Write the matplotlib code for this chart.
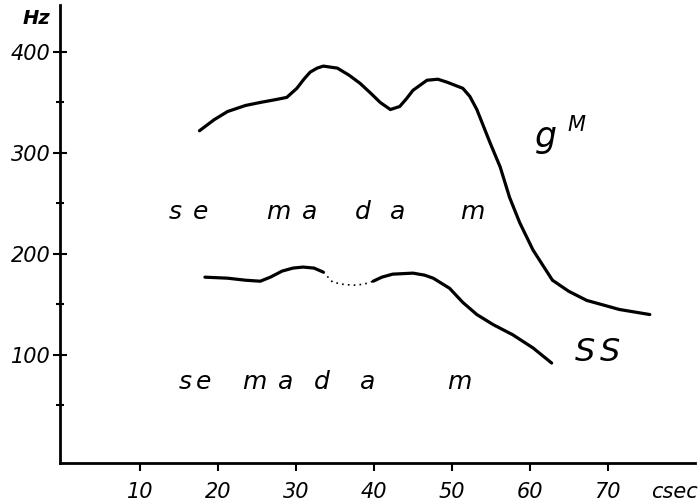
import matplotlib.pyplot as plt

# gM curve (csec, Hz)
gm_t = [17.6, 19.5, 21.2, 23.5, 25.4, 27.5, 28.8, 30.1, 31.0, 31.8, 32.7, 33.5, 35.3, 36.8, 38.2, 39.6,
        40.8, 42.1, 43.3, 44.2, 45.0, 46.8, 48.2, 49.4, 51.4, 52.3, 53.2, 54.9, 56.2, 57.4, 58.7,
        60.4, 62.9, 65.0, 67.3, 71.5, 75.4]
gm_hz = [322, 333, 341, 347, 350, 353, 355, 364, 373, 380, 384, 386, 384, 377, 369, 359,
         350, 343, 346, 354, 362, 372, 373, 370, 364, 356, 343, 310, 286, 256, 231,
         204, 174, 163, 154, 145, 140]

# SS curve, solid part before the gap
ss1_t = [18.3, 21.2, 23.5, 25.4, 26.7, 28.2, 29.6, 30.9, 32.3, 33.5]
ss1_hz = [177, 176, 174, 173, 177, 183, 186, 187, 186, 182]
# dotted gap
gap_t = [33.5, 34.7, 36.0, 37.3, 38.7, 39.9]
gap_hz = [182, 172, 170, 169, 170, 173]
# solid part after the gap
ss2_t = [39.9, 41.0, 42.4, 45.0, 46.5, 47.6, 49.7, 51.4, 53.2, 55.3, 57.8, 60.4, 62.8]
ss2_hz = [173, 177, 180, 181, 179, 176, 166, 152, 140, 130, 120, 107, 92]

# syllable letters under each curve
upper_letters = ['s', 'e', 'm', 'a', 'd', 'a', 'm']
upper_t = [14.5, 17.7, 27.7, 31.8, 38.6, 43.1, 52.6]
lower_letters = ['s', 'e', 'm', 'a', 'd', 'a', 'm']
lower_t = [15.8, 18.1, 24.7, 28.6, 33.3, 39.2, 51.0]

yticks = [100, 200, 300, 400]
yminor = [50, 150, 250, 350]
xticks = [10, 20, 30, 40, 50, 60, 70]

fig = plt.figure(figsize=(7, 5.04), dpi=100)
ax = fig.add_axes([60 / 700, 41 / 504, 635 / 700, 458 / 504])

lw = 2.3
ax.plot(gm_t, gm_hz, color='black', lw=lw, solid_capstyle='round', solid_joinstyle='round')
ax.plot(ss1_t, ss1_hz, color='black', lw=lw, solid_capstyle='round', solid_joinstyle='round')
ax.plot(gap_t, gap_hz, color='black', lw=1.2, linestyle=(0, (1, 2.5)))
ax.plot(ss2_t, ss2_hz, color='black', lw=lw, solid_capstyle='round', solid_joinstyle='round')

font = dict(family='DejaVu Sans', style='italic', color='black')

for t, ch in zip(upper_t, upper_letters):
    ax.text(t, 242, ch, fontsize=18, ha='center', va='center', **font)
for t, ch in zip(lower_t, lower_letters):
    ax.text(t, 73, ch, fontsize=18, ha='center', va='center', **font)

ax.text(62.0, 316, 'g', fontsize=25, ha='center', va='center', **font)
ax.text(66.0, 328, 'M', fontsize=15, ha='center', va='center', **font)
ax.text(67.1, 102, 'S', fontsize=23, ha='center', va='center', **font)
ax.text(70.3, 102, 'S', fontsize=23, ha='center', va='center', **font)

ax.set_xlim(-0.3, 81.2)
ax.set_ylim(-7, 446.5)

for side in ['top', 'right']:
    ax.spines[side].set_visible(False)
for side in ['left', 'bottom']:
    ax.spines[side].set_linewidth(2)

ax.set_yticks(yticks)
ax.set_yticks(yminor, minor=True)
ax.set_yticklabels([str(v) for v in yticks], fontsize=15, **font)
ax.set_xticks(xticks)
ax.set_xticklabels([str(v) for v in xticks], fontsize=15, **font)
ax.tick_params(axis='y', which='major', direction='inout', length=10, width=1.5, pad=2)
ax.tick_params(axis='y', which='minor', direction='inout', length=6, width=1.5)
ax.tick_params(axis='x', which='major', direction='out', length=6, width=1.5, pad=8)

ax.annotate('csec', xy=(78.5, 0), xycoords=('data', 'axes fraction'), xytext=(0, -14),
            textcoords='offset points', ha='center', va='top', fontsize=15, **font)
ax.annotate('Hz', xy=(0, 1), xycoords='axes fraction', xytext=(-17, -10),
            textcoords='offset points', ha='center', va='center', fontsize=14,
            fontweight='bold', **font)

fig.savefig('out.png', dpi=100)
